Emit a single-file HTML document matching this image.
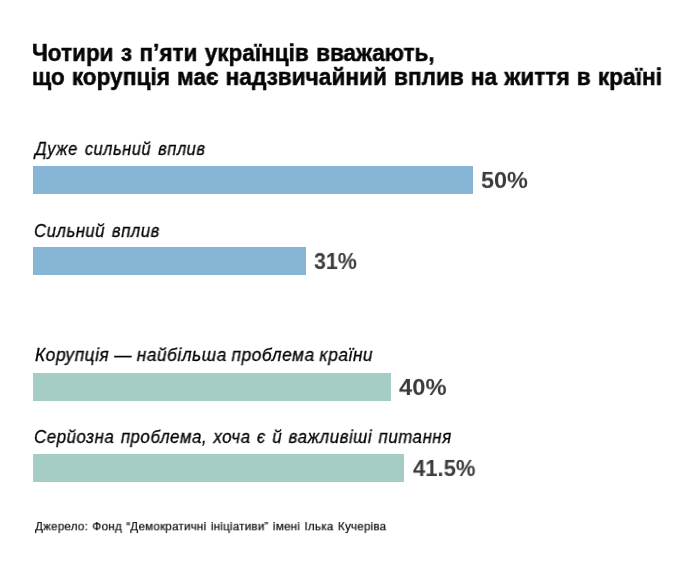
<!DOCTYPE html>
<html lang="uk">
<head>
<meta charset="utf-8">
<title>Чотири з п’яти українців вважають, що корупція має надзвичайний вплив на життя в країні</title>
<style>
  html, body { margin: 0; padding: 0; background: #ffffff; }
  body { width: 690px; height: 567px; position: relative; overflow: hidden;
         font-family: "Liberation Sans", sans-serif; }
  .t { position: absolute; white-space: nowrap; line-height: 1; margin: 0;
       transform-origin: 0 0; will-change: transform; -webkit-font-smoothing: antialiased; }
  .title { font-weight: bold; font-size: 24px; color: #050505; -webkit-text-stroke: 0.5px #050505; }
  .label { font-style: italic; font-size: 17.5px; color: #050505; letter-spacing: 0.55px; -webkit-text-stroke: 0.3px #050505; }
  .val   { font-weight: bold; font-size: 23px; color: #3c3c3c; }
  .src   { font-size: 12px; color: #0d0d0d; letter-spacing: 0.2px; -webkit-text-stroke: 0.2px #0d0d0d; }
  .bar   { position: absolute; left: 33px; height: 28px; }
  .blue  { background: #86b5d5; }
  .teal  { background: #a5ccc5; }
</style>
</head>
<body>
  <h1 id="t1" class="t title" style="left:31.8px; top:41.01px; transform:scaleX(0.9380); word-spacing:1.25px;">Чотири з п’яти українців вважають,</h1>
  <h1 id="t2" class="t title" style="left:32.3px; top:65.00px; transform:scaleX(0.9432); word-spacing:0.90px;">що корупція має надзвичайний вплив на життя в країні</h1>
  <div id="l1" class="t label" style="left:35.0px; top:141.00px; transform:scaleX(0.9399); word-spacing:2.15px;">Дуже сильний вплив</div>
  <div id="b1" class="bar blue" style="top:166px; width:440px;"></div>
  <div id="v1" class="t val" style="left:480.9px; top:169.96px; transform:scale(1.0202, 0.95);">50%</div>
  <div id="l2" class="t label" style="left:34.2px; top:223.01px; transform:scaleX(0.9558); word-spacing:1.70px;">Сильний вплив</div>
  <div id="b2" class="bar blue" style="top:247px; width:273px;"></div>
  <div id="v2" class="t val" style="left:313.7px; top:250.96px; transform:scale(0.9318, 0.95);">31%</div>

  <div id="l3" class="t label" style="left:34.7px; top:347.00px; transform:scaleX(0.9875); word-spacing:-0.50px;">Корупція — найбільша проблема країни</div>
  <div id="b3" class="bar teal" style="top:373px; width:358px;"></div>
  <div id="v3" class="t val" style="left:399.2px; top:376.96px; transform:scale(1.0324, 0.95);">40%</div>
  <div id="l4" class="t label" style="left:34.1px; top:429.00px; transform:scaleX(0.9649); word-spacing:1.20px;">Серйозна проблема, хоча є й важливіші питання</div>
  <div id="b4" class="bar teal" style="top:454px; width:371px;"></div>
  <div id="v4" class="t val" style="left:412.8px; top:457.97px; transform:scale(0.9578, 0.95);">41.5%</div>

  <div id="src" class="t src" style="left:35.2px; top:521.31px; transform:scale(0.9719, 0.93); word-spacing:1.05px;">Джерело: Фонд “Демократичні ініціативи” імені Ілька Кучеріва</div>
</body>
</html>
